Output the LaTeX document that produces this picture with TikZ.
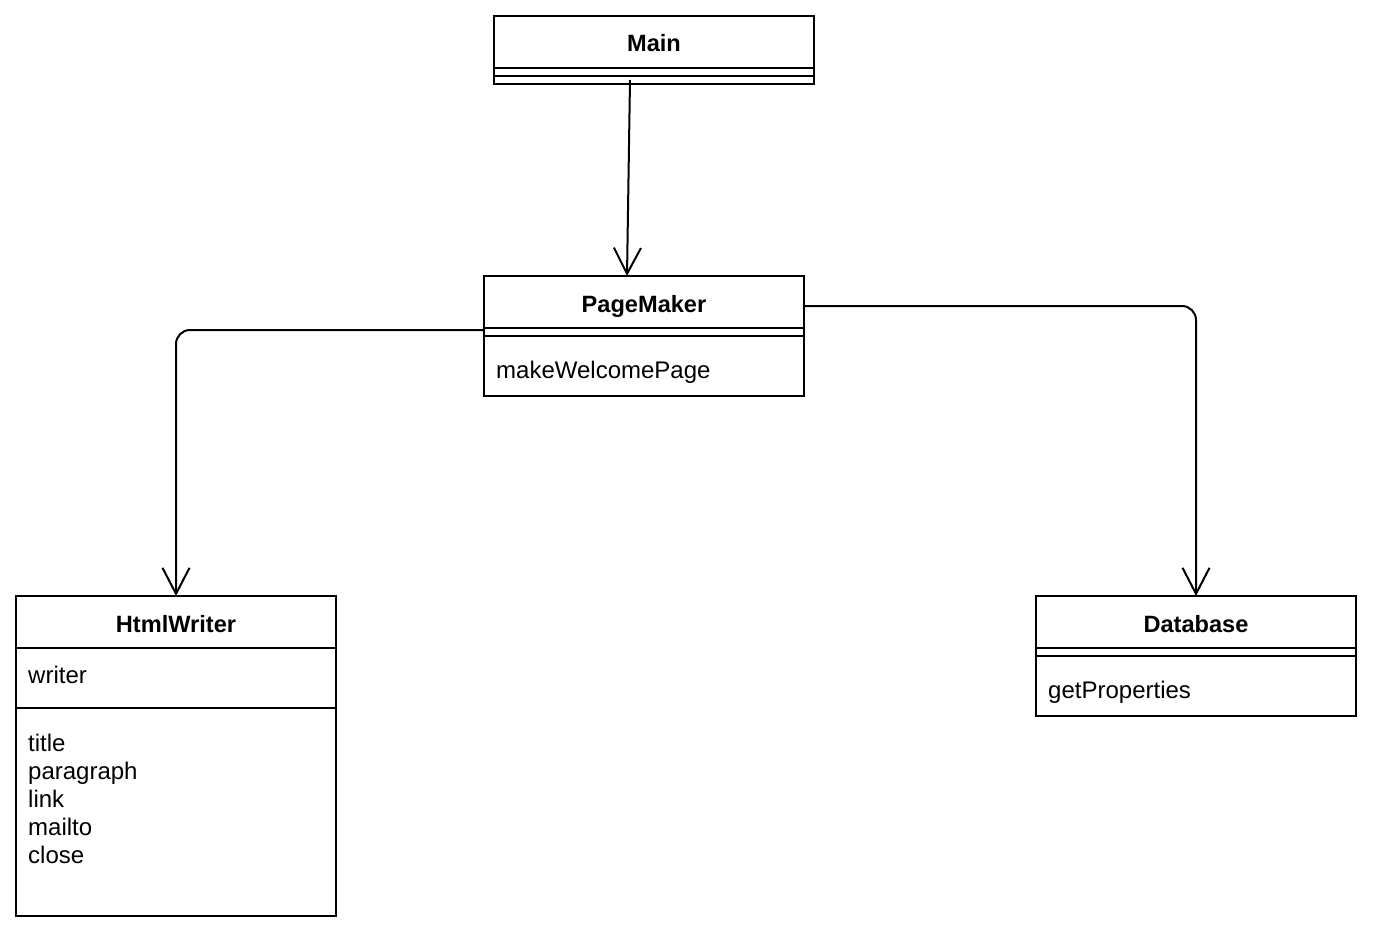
\documentclass[tikz,border=0pt]{standalone}
\usepackage{fontspec}
\setmainfont{Liberation Sans}
\usetikzlibrary{arrows.meta,calc}
\begin{document}
\begin{tikzpicture}[x=1pt,y=-1pt,
  box/.style={draw=black, line width=2pt, fill=white, minimum width=320pt, inner sep=0pt, outer sep=0pt, anchor=north west},
  sepline/.style={line width=2pt},
  cltitle/.style={font=\fontsize{23.6}{28}\selectfont\bfseries, anchor=base, inner sep=0pt},
  item/.style={font=\fontsize{24}{28}\selectfont, anchor=base west, inner sep=0pt},
  conn/.style={line width=2pt, -{Straight Barb[length=26pt,width=27pt]}, rounded corners=14pt}]
\useasboundingbox[fill=white] (0,0) rectangle (1374,939);

% Main
\node[box, minimum height=68pt] (main) at (494,16) {};
\draw[sepline] ($(main.north west)+(0,52)$) -- ($(main.north east)+(0,52)$);
\draw[sepline] ($(main.north west)+(0,60)$) -- ($(main.north east)+(0,60)$);
\node[cltitle] (maint) at ($(main.north)+(0,36)$) {Main};

% PageMaker
\node[box, minimum height=120pt] (pm) at (484,276) {};
\draw[sepline] ($(pm.north west)+(0,52)$) -- ($(pm.north east)+(0,52)$);
\draw[sepline] ($(pm.north west)+(0,60)$) -- ($(pm.north east)+(0,60)$);
\node[cltitle] (pmt) at ($(pm.north)+(0,36)$) {PageMaker};
\node[item] (pmm) at ($(pm.north west)+(12,102.5)$) {makeWelcomePage};

% HtmlWriter
\node[box, minimum height=320pt] (hw) at (16,596) {};
\draw[sepline] ($(hw.north west)+(0,52)$) -- ($(hw.north east)+(0,52)$);
\draw[sepline] ($(hw.north west)+(0,112)$) -- ($(hw.north east)+(0,112)$);
\node[cltitle] (hwt) at ($(hw.north)+(0,36)$) {HtmlWriter};
\node[item] (hwa) at ($(hw.north west)+(12,87.5)$) {writer};
\node[item] (hwm1) at ($(hw.north west)+(12,155.5)$) {title};
\node[item] (hwm2) at ($(hw.north west)+(12,183.5)$) {paragraph};
\node[item] (hwm3) at ($(hw.north west)+(12,211.5)$) {link};
\node[item] (hwm4) at ($(hw.north west)+(12,239.5)$) {mailto};
\node[item] (hwm5) at ($(hw.north west)+(12,267.5)$) {close};

% Database
\node[box, minimum height=120pt] (db) at (1036,596) {};
\draw[sepline] ($(db.north west)+(0,52)$) -- ($(db.north east)+(0,52)$);
\draw[sepline] ($(db.north west)+(0,60)$) -- ($(db.north east)+(0,60)$);
\node[cltitle] (dbt) at ($(db.north)+(0,36)$) {Database};
\node[item] (dbm) at ($(db.north west)+(12,102.5)$) {getProperties};

% connectors
\draw[conn] ($(main.south)+(-24,-4)$) -- ($(pm.north)+(-17,0)$);
\draw[conn] ($(pm.north west)+(0,54)$) -| (hw.north);
\draw[conn] ($(pm.north east)+(0,30)$) -| (db.north);
\end{tikzpicture}
\end{document}
